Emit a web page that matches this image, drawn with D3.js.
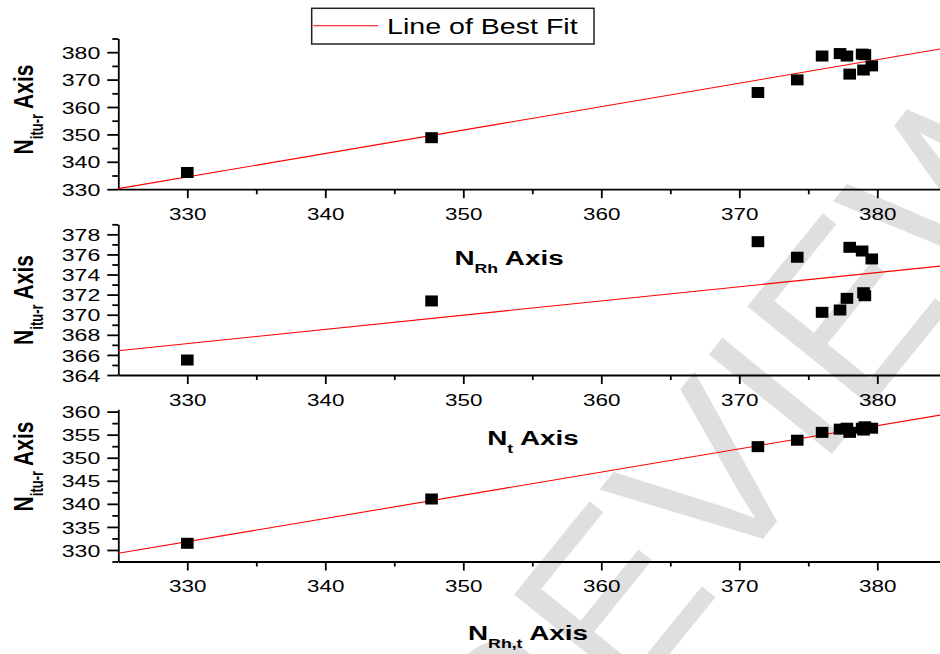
<!DOCTYPE html>
<html lang="en">
<head>
<meta charset="UTF-8" />
<style>
  body { margin: 0; background: #fff; }
  text { font-family: "Liberation Sans", Arial, sans-serif; }
</style>
</head>
<body>
<svg width="940" height="654"></svg>
<script src="https://d3js.org/d3.v7.min.js"></script>
<script>
// shared x positions
var xTicks = [330, 340, 350, 360, 370, 380];
var xMinor = [335, 345, 355, 365, 375, 385];
var xFit = [325, 384.6];

// panel 1 : N_itu-r vs N_Rh
var xRh   = [330, 347.7, 371.35, 374.2, 376.0, 377.3, 377.8, 378.0, 378.9, 379.0, 379.1, 379.6];
var yRh   = [336.1, 348.8, 365.3, 369.9, 378.6, 379.5, 378.6, 372.0, 379.3, 373.5, 379.1, 375.0];
var fitRh = [330.2, 381.2];
var yTicksRh = [330, 340, 350, 360, 370, 380];
var yMinorRh = [335, 345, 355, 365, 375, 385];

// panel 2 : N_itu-r vs N_t
var xT   = [330, 347.7, 371.35, 374.2, 376.0, 377.3, 377.8, 378.0, 378.9, 379.0, 379.1, 379.6];
var yT   = [365.49, 371.37, 377.27, 375.72, 370.24, 370.47, 371.63, 376.71, 376.34, 372.19, 371.89, 375.55];
var fitT = [366.42, 374.85];
var yTicksT = [364, 366, 368, 370, 372, 374, 376, 378];
var yMinorT = [365, 367, 369, 371, 373, 375, 377, 379];

// panel 3 : N_itu-r vs N_Rh,t
var xRhT   = [330, 347.7, 371.35, 374.2, 376.0, 377.3, 377.8, 378.0, 378.9, 379.0, 379.1, 379.6];
var yRhT   = [331.45, 341.05, 352.4, 353.8, 355.5, 356.2, 356.4, 355.5, 356.4, 356.0, 356.7, 356.4];
var fitRhT = [329.28, 359.27];
var yTicksRhT = [330, 335, 340, 345, 350, 355, 360];
var yMinorRhT = [327.5, 332.5, 337.5, 342.5, 347.5, 352.5, 357.5];

var SX = 1.36; // the source image is stretched sideways

var svg = d3.select("svg");

// watermark, behind everything
svg.append("text")
    .attr("transform", "translate(758,545) rotate(-51)")
    .attr("text-anchor", "middle")
    .style("font-size", "230px")
    .style("fill", "#dfdfdf")
    .text("PREVIEW");

var x = d3.scaleLinear().domain([325, 385]).range([118.3, 946.3]);

var panels = [
    { xs: xRh, ys: yRh, fit: fitRh, dom: [330, 385], top: 38.5, bottom: 189.2,
      ticks: yTicksRh, minor: yMinorRh, titleY: 109.5,
      xSub: "Rh", xTitleX: 509, xTitleY: 265 },
    { xs: xT, ys: yT, fit: fitT, dom: [364, 379], top: 224.3, bottom: 375,
      ticks: yTicksT, minor: yMinorT, titleY: 300,
      xSub: "t", xTitleX: 533, xTitleY: 445 },
    { xs: xRhT, ys: yRhT, fit: fitRhT, dom: [327.5, 360.5], top: 409.3, bottom: 561.5,
      ticks: yTicksRhT, minor: yMinorRhT, titleY: 466.5,
      xSub: "Rh,t", xTitleX: 528, xTitleY: 640 }
];

function styleAxis(g) {
    g.attr("font-family", null).attr("font-size", null);
    g.selectAll("path, line").attr("stroke", "#000").attr("stroke-width", 1.8);
}

panels.forEach(function (p) {
    var y = d3.scaleLinear().domain(p.dom).range([p.bottom, p.top]);

    // y axis
    var gy = svg.append("g")
        .attr("transform", "translate(118.3,0)")
        .call(d3.axisLeft(y).tickValues(p.ticks).tickSize(11).tickSizeOuter(0).tickFormat(d3.format("d")));
    styleAxis(gy);
    gy.selectAll("text")
        .attr("x", null)
        .attr("dy", "0.36em")
        .attr("transform", "translate(-18,0) scale(" + SX + ",1)")
        .style("font-size", "17px")
        .style("fill", "#000");
    var gym = svg.append("g")
        .attr("transform", "translate(118.3,0)")
        .call(d3.axisLeft(y).tickValues(p.minor.filter(function (v) { return v <= p.dom[1]; }))
            .tickSize(6).tickSizeOuter(0).tickFormat(""));
    styleAxis(gym);
    gym.select(".domain").remove();

    // x axis
    var gx = svg.append("g")
        .attr("transform", "translate(0," + p.bottom + ")")
        .call(d3.axisBottom(x).tickValues(xTicks).tickSize(9).tickSizeOuter(0));
    styleAxis(gx);
    gx.selectAll("text")
        .attr("y", 31)
        .attr("dy", null)
        .attr("transform", "scale(" + SX + ",1)")
        .style("font-size", "16.5px")
        .style("fill", "#000");
    var gxm = svg.append("g")
        .attr("transform", "translate(0," + p.bottom + ")")
        .call(d3.axisBottom(x).tickValues(xMinor).tickSize(5).tickSizeOuter(0).tickFormat(""));
    styleAxis(gxm);
    gxm.select(".domain").remove();

    // line of best fit
    svg.append("line")
        .attr("x1", x(xFit[0])).attr("y1", y(p.fit[0]))
        .attr("x2", x(xFit[1])).attr("y2", y(p.fit[1]))
        .attr("stroke", "#ff0000")
        .attr("stroke-width", 1.1);

    // markers
    svg.append("g").selectAll("rect")
        .data(p.xs.map(function (d, i) { return [d, p.ys[i]]; }))
        .enter().append("rect")
        .attr("x", function (d) { return x(d[0]) - 6.3; })
        .attr("y", function (d) { return y(d[1]) - 5.5; })
        .attr("width", 12.6)
        .attr("height", 11)
        .attr("fill", "#000");

    // y title
    var ty = svg.append("text")
        .attr("transform", "translate(33," + p.titleY + ") scale(" + SX + ",1) rotate(-90)")
        .attr("text-anchor", "middle")
        .style("font-weight", "bold")
        .style("font-size", "21px");
    ty.append("tspan").text("N");
    ty.append("tspan").attr("dy", 7).style("font-size", "13px").text("itu-r");
    ty.append("tspan").attr("dy", -7).text(" Axis");

    // x title
    var tx = svg.append("text")
        .attr("transform", "translate(" + p.xTitleX + "," + p.xTitleY + ") scale(" + SX + ",1)")
        .attr("text-anchor", "middle")
        .style("font-weight", "bold")
        .style("font-size", "20.5px");
    tx.append("tspan").text("N");
    tx.append("tspan").attr("dy", 8).style("font-size", "13px").text(p.xSub);
    tx.append("tspan").attr("dy", -8).text(" Axis");
});

// legend
var lg = svg.append("g");
lg.append("rect")
    .attr("x", 311.7).attr("y", 8.3)
    .attr("width", 282.3).attr("height", 35.7)
    .attr("fill", "#fff")
    .attr("stroke", "#222")
    .attr("stroke-width", 1.5);
lg.append("line")
    .attr("x1", 313.3).attr("x2", 378.3)
    .attr("y1", 25.7).attr("y2", 25.7)
    .attr("stroke", "#ff0000")
    .attr("stroke-width", 1.1);
lg.append("text")
    .attr("transform", "translate(387,34) scale(1.3,1)")
    .style("font-size", "22px")
    .text("Line of Best Fit");
</script>
</body>
</html>
